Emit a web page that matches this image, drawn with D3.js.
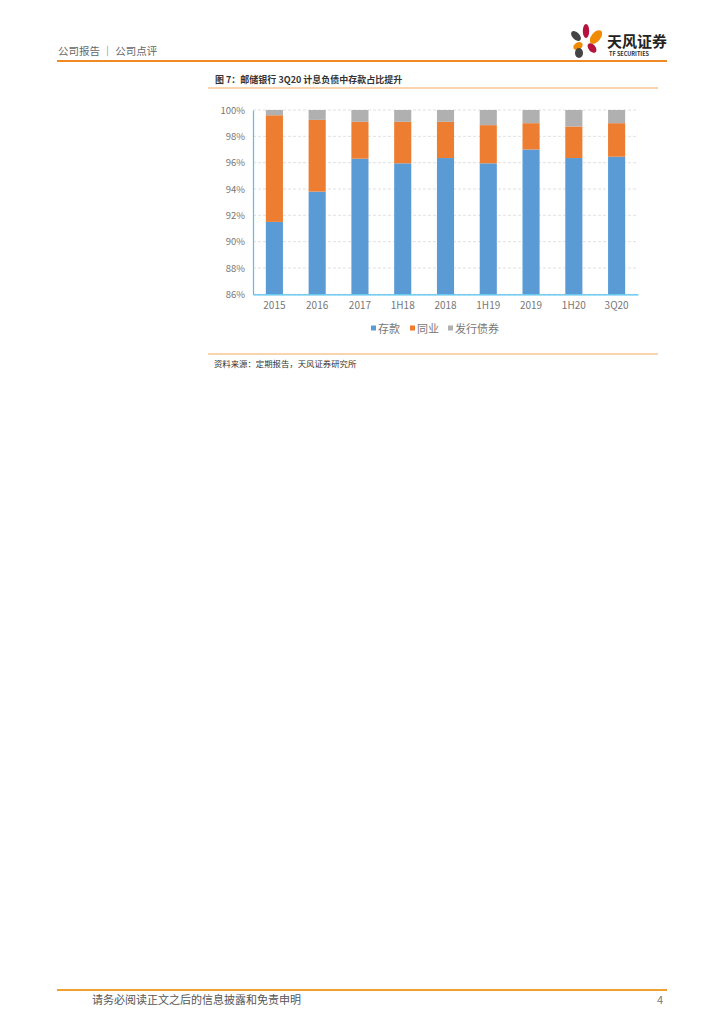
<!DOCTYPE html>
<html><head><meta charset="utf-8">
<script src="https://cdn.jsdelivr.net/npm/d3@7/dist/d3.min.js"></script>
<style>body{margin:0;background:#fff}svg{display:block}text{font-family:"Noto Sans CJK SC","Noto Sans",sans-serif}</style>
</head><body>
<svg id="c" width="724" height="1024"></svg>
<script>
const categories = ["2015","2016","2017","1H18","2018","1H19","2019","1H20","3Q20"];
const deposits  = [91.5, 93.8, 96.3, 95.95, 96.35, 95.95, 97.0, 96.35, 96.45];
const interbank = [8.1, 5.45, 2.8, 3.15, 2.75, 2.9, 2.0, 2.4, 2.55];
const bonds     = [0.4, 0.75, 0.9, 0.9, 0.9, 1.15, 1.0, 1.25, 1.0];
const seriesNames = ["存款","同业","发行债券"];
const yTicks = [86,88,90,92,94,96,98,100];
const colors = ["#5B9BD5","#ED7D31","#B0B0B0"];

const svg = d3.select("#c");
const orange = "#F08A24";

// header
svg.append("text").attr("x",58).attr("y",55).attr("font-size",10.5).attr("fill","#666").text("公司报告 ｜ 公司点评");
svg.append("rect").attr("x",57).attr("y",60).attr("width",610).attr("height",2).attr("fill",orange);
// logo
const lg = svg.append("g");
const petals = [
  {cx:586,cy:31,rx:3.2,ry:7,rot:0,c:"#B5123E"},
  {cx:596,cy:37,rx:4.5,ry:8,rot:40,c:"#F08A00"},
  {cx:576,cy:36,rx:3.5,ry:6,rot:-45,c:"#444"},
  {cx:578,cy:46,rx:3.5,ry:5,rot:60,c:"#F08A00"},
  {cx:592,cy:48,rx:3.5,ry:5.5,rot:-40,c:"#B5123E"},
  {cx:579,cy:53,rx:4,ry:5,rot:0,c:"#444"}
];
petals.forEach(p=>lg.append("ellipse").attr("cx",p.cx).attr("cy",p.cy).attr("rx",p.rx).attr("ry",p.ry)
  .attr("transform",`rotate(${p.rot},${p.cx},${p.cy})`).attr("fill",p.c));
svg.append("text").attr("x",607).attr("y",47).attr("font-size",15).attr("font-weight","bold").attr("fill","#222").text("天风证券");
svg.append("text").attr("x",609).attr("y",56).attr("font-size",5.5).attr("font-weight","bold").attr("fill","#333").text("TF SECURITIES");

// title
svg.append("text").attr("x",215).attr("y",83).attr("font-size",9).attr("font-weight","bold").attr("fill","#333").text("图 7：邮储银行 3Q20 计息负债中存款占比提升");
svg.append("rect").attr("x",208).attr("y",87.5).attr("width",450).attr("height",1).attr("fill","#F5A860");

// chart
const x = d3.scaleBand().domain(categories).range([253,638]).paddingInner(0.6).paddingOuter(0.3);
const y = d3.scaleLinear().domain([86,100]).range([294.3,110]);

const grid = svg.append("g");
yTicks.forEach(t=>{
  grid.append("line").attr("x1",253).attr("x2",638).attr("y1",y(t)).attr("y2",y(t))
    .attr("stroke","#D9D9D9").attr("stroke-width",0.8).attr("stroke-dasharray","3,2");
});

const rows = categories.map((c,i)=>({cat:c, "存款":deposits[i], "同业":interbank[i], "发行债券":bonds[i]}));
const stack = d3.stack().keys(seriesNames)(rows);
stack.forEach((s,si)=>{
  svg.append("g").selectAll("rect").data(s).join("rect")
    .attr("x",d=>x(d.data.cat)).attr("width",x.bandwidth())
    .attr("y",d=>y(Math.min(d[1],100))).attr("height",d=>y(Math.max(d[0],86))-y(Math.min(d[1],100)))
    .attr("fill",colors[si]);
});

const yAxis = svg.append("g").attr("transform","translate(253,0)")
  .call(d3.axisLeft(y).tickValues(yTicks).tickSize(0).tickPadding(8).tickFormat(d=>d+"%"));
yAxis.select(".domain").attr("stroke","#4FC1F0").attr("stroke-width",1.2);
yAxis.selectAll("text").attr("font-size",9.5).attr("fill","#777").attr("font-family","Noto Sans, sans-serif");

const xAxis = svg.append("g").attr("transform","translate(0,294.3)")
  .call(d3.axisBottom(x).tickSize(0).tickPadding(8));
xAxis.select(".domain").attr("stroke","#4FC1F0").attr("stroke-width",1.2);
xAxis.selectAll("text").attr("font-size",10).attr("fill","#777").attr("font-family","Noto Sans, sans-serif");

// legend
const legX = [371, 410, 448];
const lgd = svg.append("g");
seriesNames.forEach((n,i)=>{
  lgd.append("rect").attr("x",legX[i]).attr("y",325.5).attr("width",5).attr("height",5).attr("fill",colors[i]);
  lgd.append("text").attr("x",legX[i]+7).attr("y",332.5).attr("font-size",11).attr("fill","#777").text(n);
});

// source
svg.append("rect").attr("x",208).attr("y",353.5).attr("width",450).attr("height",1).attr("fill","#F5A860");
svg.append("text").attr("x",214).attr("y",367).attr("font-size",8.4).attr("fill","#333").text("资料来源：定期报告，天风证券研究所");

// footer
svg.append("rect").attr("x",57).attr("y",989).attr("width",610).attr("height",2).attr("fill","#F0A030");
svg.append("text").attr("x",92).attr("y",1004).attr("font-size",11).attr("fill","#555").text("请务必阅读正文之后的信息披露和免责申明");
svg.append("text").attr("x",657).attr("y",1004).attr("font-size",11).attr("fill","#777").text("4");
</script>
</body></html>
